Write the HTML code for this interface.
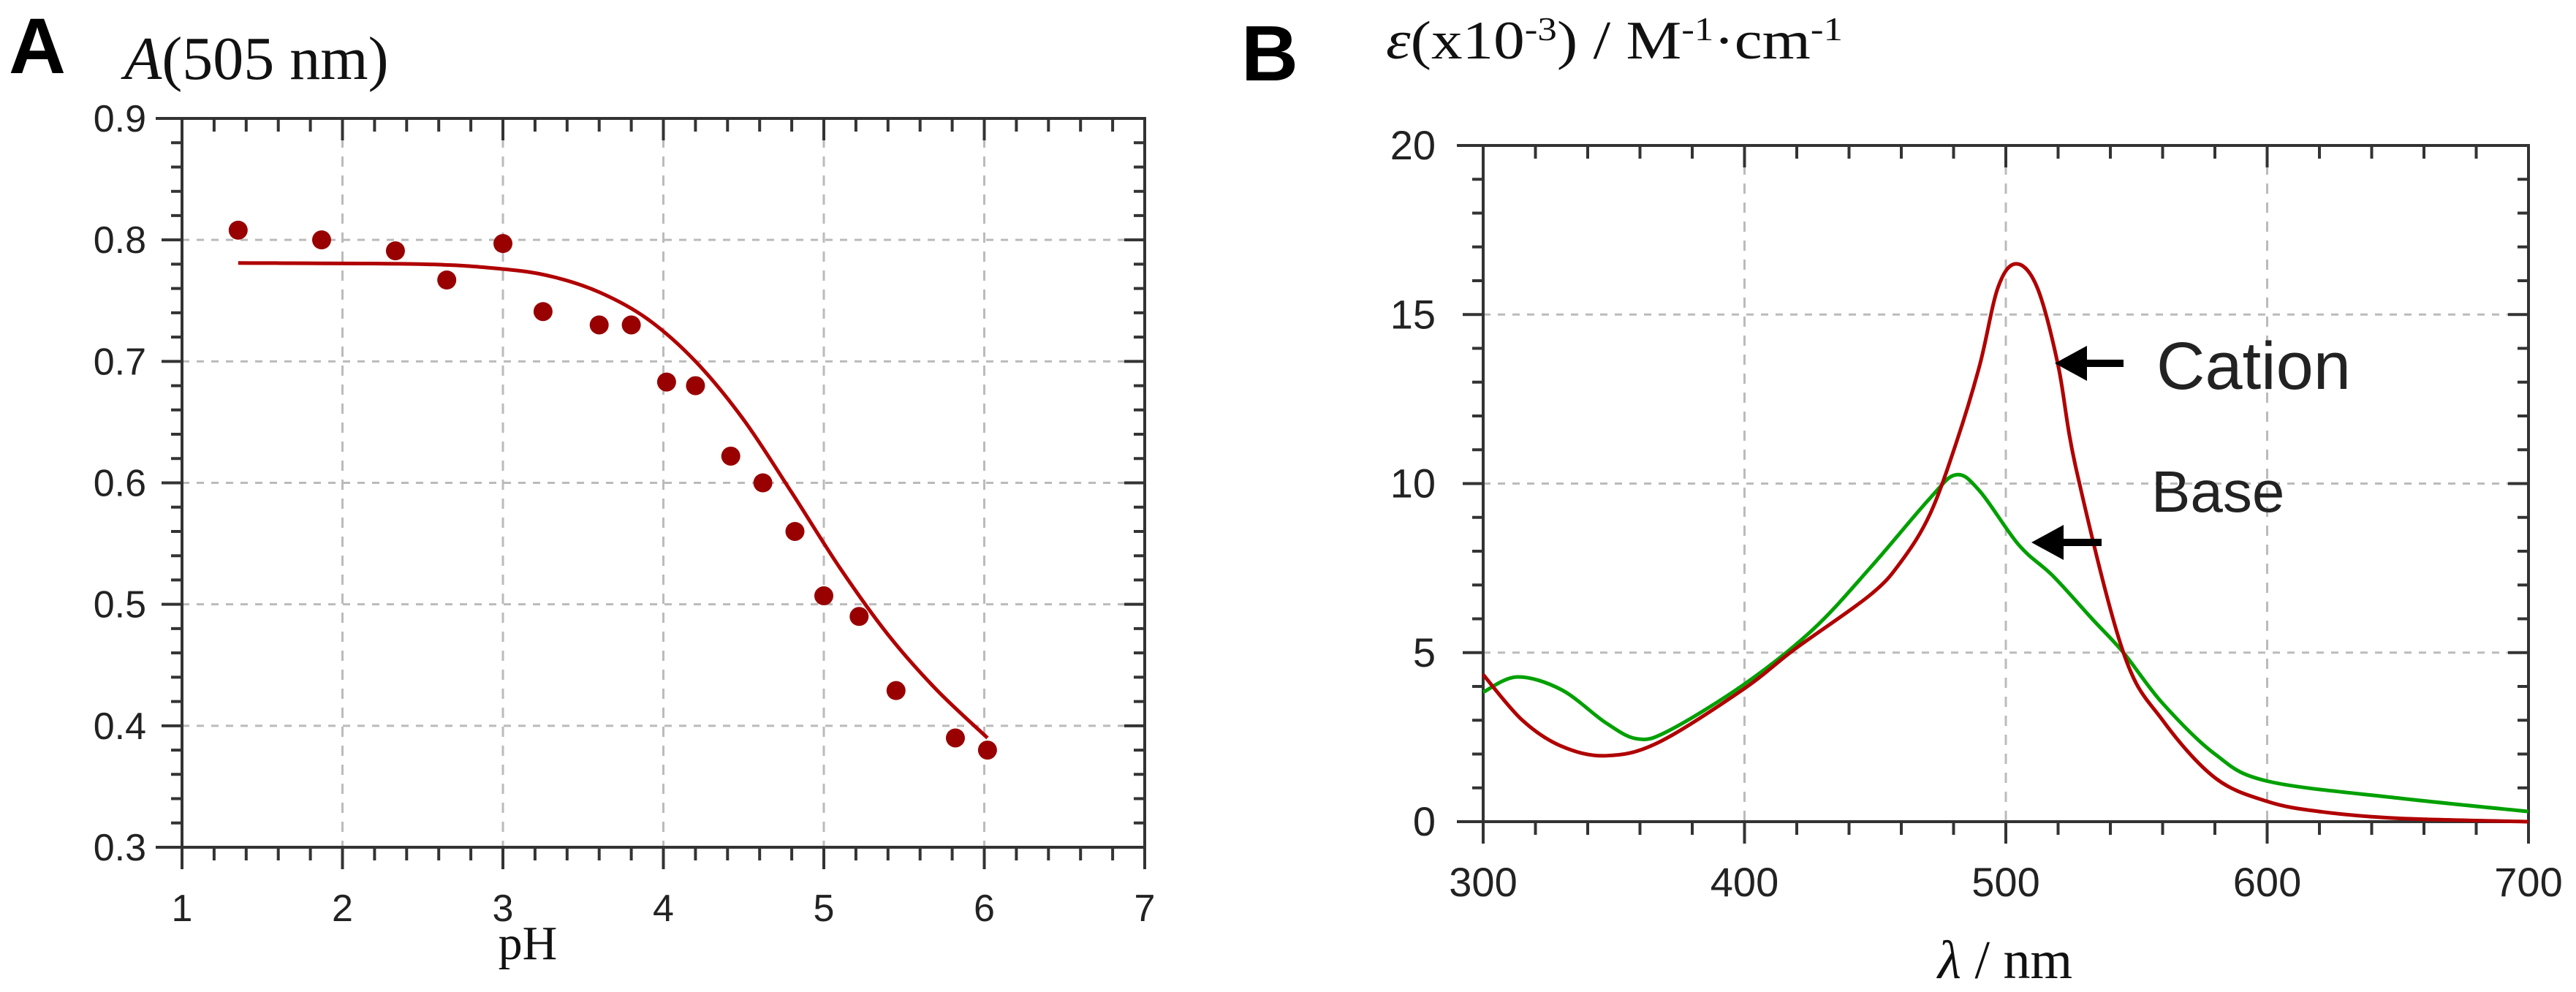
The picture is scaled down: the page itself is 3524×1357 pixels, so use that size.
<!DOCTYPE html>
<html><head><meta charset="utf-8"><style>
html,body{margin:0;padding:0;background:#fff;}
svg{display:block;}
.tk{font-family:"Liberation Sans",sans-serif;fill:#222;}
.ser{font-family:"Liberation Serif",serif;fill:#111;}
</style></head><body>
<svg id="fig" xmlns="http://www.w3.org/2000/svg" width="3524" height="1357" viewBox="0 0 3524 1357">
<text x="12" y="100" font-family="Liberation Sans,sans-serif" font-weight="bold" font-size="108">A</text>
<text class="ser" x="170" y="108" font-size="84"><tspan font-style="italic">A</tspan>(505 nm)</text>
<text class="ser" x="722" y="1312" font-size="66" text-anchor="middle">pH</text>
<text x="1698" y="110" font-family="Liberation Sans,sans-serif" font-weight="bold" font-size="108">B</text>
<text class="ser" x="1896" y="80" font-size="74" textLength="625" lengthAdjust="spacingAndGlyphs"><tspan font-style="italic">ε</tspan>(x10<tspan baseline-shift="super" font-size="46">-3</tspan>) / M<tspan baseline-shift="super" font-size="46">-1</tspan>·cm<tspan baseline-shift="super" font-size="46">-1</tspan></text>
<text class="ser" x="2743" y="1338" font-size="74" text-anchor="middle"><tspan font-style="italic">λ</tspan> / nm</text>
<g id="gA"></g><g id="gB"></g>
</svg>
<script>
// Panel A data
const phPoints = [1.35,1.87,2.33,2.65,3.0,3.25,3.6,3.8,4.02,4.2,4.42,4.62,4.82,5.0,5.22,5.45,5.82,6.02];
const absPoints = [0.808,0.800,0.791,0.767,0.797,0.741,0.730,0.730,0.683,0.680,0.622,0.600,0.560,0.507,0.490,0.429,0.390,0.380];
const phFit = [1.35,2.5,3.0,3.3,3.6,3.9,4.2,4.5,4.8,5.1,5.4,5.7,6.02];
const absFit = [0.781,0.780,0.776,0.770,0.757,0.735,0.700,0.652,0.592,0.530,0.475,0.430,0.390];
const phTicks = [1,2,3,4,5,6,7];
const absTicks = [0.3,0.4,0.5,0.6,0.7,0.8,0.9];
const absTickLabels = ["0.3","0.4","0.5","0.6","0.7","0.8","0.9"];
// Panel B data
const nmCation = [300,315,330,347,367,400,419,448,460,471,481,490,497,504,512,520,527,545,560,580,600,620,650,700];
const epsCation = [4.35,3.0,2.23,1.95,2.34,3.94,5.09,6.7,7.7,9.1,11.2,13.5,15.8,16.5,15.8,13.5,10.4,5.0,3.0,1.3,0.6,0.3,0.1,0.0];
const nmBase = [300,313,330,347,359,371,400,426,448,471,481,490,505,518,533,545,560,580,600,650,700];
const epsBase = [3.83,4.28,3.9,2.92,2.45,2.69,4.07,5.67,7.5,9.57,10.26,9.78,8.18,7.27,6.0,5.0,3.5,2.0,1.2,0.7,0.3];
const nmTicks = [300,400,500,600,700];
const epsTicks = [0,5,10,15,20];

const NS="http://www.w3.org/2000/svg";
function mk(parent,tag,attrs){const e=document.createElementNS(NS,tag);for(const k in attrs)e.setAttribute(k,attrs[k]);parent.appendChild(e);return e;}
function smooth(pts){let d="M"+pts[0][0]+","+pts[0][1];for(let i=0;i<pts.length-1;i++){const p0=pts[Math.max(i-1,0)],p1=pts[i],p2=pts[i+1],p3=pts[Math.min(i+2,pts.length-1)];const c1=[p1[0]+(p2[0]-p0[0])/6,p1[1]+(p2[1]-p0[1])/6],c2=[p2[0]-(p3[0]-p1[0])/6,p2[1]-(p3[1]-p1[1])/6];d+=" C"+c1[0]+","+c1[1]+" "+c2[0]+","+c2[1]+" "+p2[0]+","+p2[1];}return d;}

function frame(g,L,R,T,B,xmin,xmax,ymin,ymax,xMaj,xMin,yMaj,yMin,xs,ys){
  for(const v of xMaj){const X=xs(v);if(X>L+2&&X<R-2){const e=mk(g,"line",{x1:X,y1:T,x2:X,y2:B,stroke:"#bbb","stroke-width":3,"stroke-dasharray":"14 12"});

}}
  for(const v of yMaj){const Y=ys(v);if(Y>T+2&&Y<B-2){const e=mk(g,"line",{x1:L,y1:Y,x2:R,y2:Y,stroke:"#bbb","stroke-width":3,"stroke-dasharray":"10 10"});

}}
  const ax=mk(g,"path",{d:`M${L},${T}H${R}V${B}H${L}Z M${L-36},${B}H${L} M${L-36},${T}H${L}`,fill:"none",stroke:"#333","stroke-width":4});
  
  
  let d="";
  for(let v=xmin;v<=xmax+1e-9;v+=xMin){const X=xs(v);const maj=xMaj.some(m=>Math.abs(m-v)<1e-6);const len=maj?30:18;d+=`M${X},${B}v${len}M${X},${T}v${len}`;}
  for(let v=ymin;v<=ymax+1e-9;v+=yMin){const Y=ys(v);const maj=yMaj.some(m=>Math.abs(m-v)<1e-6);const len=maj?28:15;d+=`M${L},${Y}h${-len}M${R},${Y}h${-len}`;}
  const t=mk(g,"path",{d:d,stroke:"#333","stroke-width":4,fill:"none"});
  
  
}

// Panel A
(function(){
  const g=document.getElementById("gA");
  const L=249,R=1566,T=162,B=1159;
  const xs=v=>L+(v-1)/6*(R-L), ys=v=>B-(v-0.3)/0.6*(B-T);
  frame(g,L,R,T,B,1,7,0.3,0.9,phTicks,0.2,absTicks,0.02,xs,ys);
  phTicks.forEach(v=>{const e=mk(g,"text",{x:xs(v),y:1260,"font-size":52,"text-anchor":"middle",class:"tk"});e.textContent=v;

});
  absTicks.forEach((v,i)=>{const e=mk(g,"text",{x:200,y:ys(v)+18,"font-size":52,"text-anchor":"end",class:"tk"});e.textContent=absTickLabels[i];

});
  const fit=mk(g,"path",{d:smooth(phFit.map((p,i)=>[xs(p),ys(absFit[i])])),fill:"none",stroke:"#b00000","stroke-width":5});
  
  
  phPoints.forEach((p,i)=>{const c=mk(g,"circle",{cx:xs(p),cy:ys(absPoints[i]),r:13,fill:"#990000"});

});
})();

// Panel B
(function(){
  const g=document.getElementById("gB");
  const L=2029,R=3459,T=199,B=1124;
  const xs=v=>L+(v-300)/400*(R-L), ys=v=>B-v/20*(B-T);
  frame(g,L,R,T,B,300,700,0,20,nmTicks,20,epsTicks,1,xs,ys);
  nmTicks.forEach(v=>{const e=mk(g,"text",{x:xs(v),y:1226,"font-size":56,"text-anchor":"middle",class:"tk"});e.textContent=v;

});
  epsTicks.forEach(v=>{const e=mk(g,"text",{x:1964,y:ys(v)+19,"font-size":56,"text-anchor":"end",class:"tk"});e.textContent=v;

});
  const gb=mk(g,"path",{d:smooth(nmBase.map((n,i)=>[xs(n),ys(epsBase[i])])),fill:"none",stroke:"#00a000","stroke-width":5});
  
  
  const rc=mk(g,"path",{d:smooth(nmCation.map((n,i)=>[xs(n),ys(epsCation[i])])),fill:"none",stroke:"#b00000","stroke-width":5});
  
  
  const a1=mk(g,"path",{d:"M2811,497 l44,-24 v19 h50 v10 h-50 v19 z",fill:"#000"});
  
  
  const a2=mk(g,"path",{d:"M2779,742 l44,-24 v19 h52 v10 h-52 v19 z",fill:"#000"});
  
  
  const t1=mk(g,"text",{x:2950,y:532,"font-size":92,class:"tk"});t1.textContent="Cation";
  
  
  const t2=mk(g,"text",{x:2943,y:700,"font-size":80,class:"tk"});t2.textContent="Base";
  
  
})();
</script>
</body></html>
